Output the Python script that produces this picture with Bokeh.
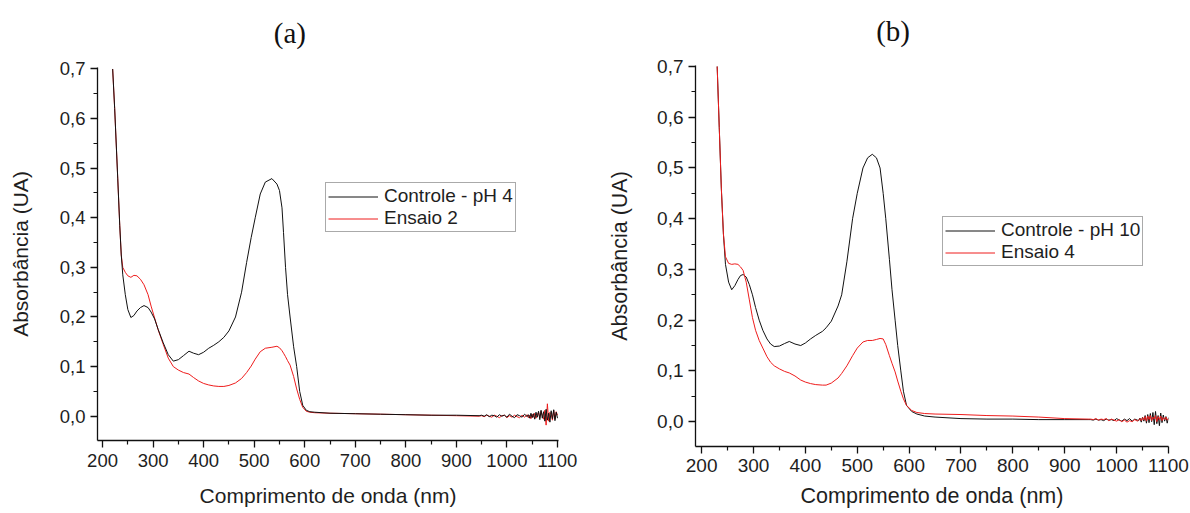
from bokeh.plotting import figure
from bokeh.models import (FixedTicker, CustomJSTickFormatter, Legend, LegendItem,
                          Range1d, LinearAxis)
from bokeh.layouts import row, column
from bokeh.embed import file_html
from bokeh.resources import INLINE

# ---------------- data ----------------
x_ticks = [200, 300, 400, 500, 600, 700, 800, 900, 1000, 1100]
x_minor = [250, 350, 450, 550, 650, 750, 850, 950, 1050]
y_ticks = [0.0, 0.1, 0.2, 0.3, 0.4, 0.5, 0.6, 0.7]
y_minor = [0.05, 0.15, 0.25, 0.35, 0.45, 0.55, 0.65]

# panel (a): Controle - pH 4 / Ensaio 2
wl_a = [220, 224, 230, 234, 237, 240, 245, 250, 256, 262, 268, 275, 282, 290, 296,
        303, 310, 320, 330, 340, 350, 360, 371, 380, 390, 400, 410, 420, 430, 440,
        450, 463, 475, 485, 494, 502, 512, 522, 535, 545, 550, 555, 558, 562, 566,
        571, 578, 584, 590, 596, 603, 610, 620, 650, 700, 750, 800, 850, 900, 945]
ctrl_a = [0.70, 0.62, 0.48, 0.385, 0.325, 0.285, 0.245, 0.215, 0.199, 0.203, 0.212, 0.219, 0.223, 0.219, 0.210,
          0.196, 0.175, 0.148, 0.124, 0.111, 0.114, 0.122, 0.131, 0.127, 0.124, 0.129, 0.137, 0.143, 0.150, 0.159,
          0.172, 0.200, 0.250, 0.310, 0.360, 0.400, 0.448, 0.472, 0.479, 0.468, 0.455, 0.420, 0.370, 0.300, 0.245,
          0.200, 0.140, 0.100, 0.050, 0.022, 0.012, 0.009, 0.008, 0.006, 0.005, 0.004, 0.003, 0.002, 0.002, 0.001]
ens_a = [0.70, 0.62, 0.48, 0.385, 0.325, 0.300, 0.290, 0.283, 0.280, 0.284, 0.283, 0.276, 0.265, 0.245, 0.222,
         0.198, 0.174, 0.145, 0.117, 0.100, 0.093, 0.088, 0.085, 0.078, 0.071, 0.066, 0.063, 0.061, 0.060, 0.060,
         0.062, 0.067, 0.076, 0.088, 0.101, 0.115, 0.130, 0.137, 0.139, 0.141, 0.138, 0.132, 0.127, 0.120, 0.112,
         0.103, 0.080, 0.055, 0.034, 0.018, 0.010, 0.008, 0.007, 0.006, 0.005, 0.004, 0.003, 0.002, 0.001, 0.000]

# panel (b): Controle - pH 10 / Ensaio 4
wl_b = [230, 234, 238, 242, 246, 252, 258, 264, 270, 275, 280, 286, 292, 298, 304,
        311, 318, 326, 333, 340, 350, 360, 369, 380, 391, 400, 410, 420, 433, 440,
        450, 463, 470, 480, 491, 500, 511, 520, 529, 537, 544, 550, 555, 562, 567,
        573, 578, 584, 589, 595, 605, 615, 630, 650, 700, 750, 800, 850, 900, 945]
ctrl_b = [0.70, 0.58, 0.46, 0.37, 0.31, 0.275, 0.260, 0.268, 0.280, 0.288, 0.290, 0.285, 0.270, 0.250, 0.225,
          0.200, 0.180, 0.163, 0.153, 0.148, 0.149, 0.154, 0.158, 0.153, 0.150, 0.155, 0.163, 0.170, 0.178, 0.185,
          0.198, 0.228, 0.250, 0.315, 0.400, 0.450, 0.500, 0.520, 0.527, 0.520, 0.500, 0.450, 0.400, 0.320, 0.260,
          0.200, 0.150, 0.100, 0.060, 0.032, 0.020, 0.015, 0.011, 0.009, 0.006, 0.005, 0.005, 0.004, 0.004, 0.004]
ens_b = [0.70, 0.58, 0.46, 0.37, 0.325, 0.312, 0.310, 0.311, 0.310, 0.305, 0.298, 0.275, 0.240, 0.205, 0.180,
         0.160, 0.145, 0.128, 0.117, 0.110, 0.104, 0.099, 0.096, 0.090, 0.082, 0.078, 0.075, 0.073, 0.072, 0.072,
         0.076, 0.086, 0.095, 0.110, 0.130, 0.145, 0.157, 0.160, 0.160, 0.162, 0.164, 0.163, 0.152, 0.130, 0.115,
         0.098, 0.080, 0.060, 0.045, 0.032, 0.022, 0.018, 0.016, 0.015, 0.014, 0.012, 0.011, 0.009, 0.006, 0.005]

# noisy near-infrared end of the spectra
wl_noise = [950, 955, 960, 965, 970, 975, 980, 985, 990, 995, 1000, 1005, 1010, 1015, 1020,
            1025, 1030, 1035, 1040, 1042.5, 1045, 1047.5, 1050, 1052.5, 1055, 1057.5, 1060,
            1062.5, 1065, 1067.5, 1070, 1072.5, 1075, 1077.5, 1080, 1082.5, 1085, 1087.5,
            1090, 1092.5, 1095, 1097.5, 1100]
ctrl_a_noise = [0.002, 0.000, 0.003, -0.001, 0.002, 0.001, -0.002, 0.003, 0.000, 0.002, -0.002, 0.004,
                0.000, -0.003, 0.003, 0.001, -0.002, 0.004, -0.001,
                0.003, -0.004, 0.006, -0.003, 0.005, -0.006, 0.008, -0.002, 0.010, -0.007, 0.012, -0.004,
                0.009, -0.010, 0.014, -0.008, 0.006, -0.012, 0.011, -0.005, 0.013, -0.009, 0.008, -0.004]
ens_a_noise = [0.001, -0.001, 0.002, 0.000, -0.002, 0.002, 0.000, -0.003, 0.001, 0.002, -0.003, 0.001,
               -0.002, 0.002, -0.001, -0.003, 0.002, -0.002, 0.003,
               -0.003, 0.002, -0.005, 0.004, -0.002, 0.006, -0.004, 0.003, 0.008, -0.003, 0.010, 0.002,
               -0.006, 0.012, -0.018, 0.025, -0.010, 0.008, 0.004, -0.008, 0.012, -0.006, 0.009, 0.002]
ctrl_b_noise = [0.004, 0.003, 0.005, 0.003, 0.004, 0.002, 0.005, 0.003, 0.004, 0.002, 0.006, 0.003,
                0.001, 0.005, 0.002, 0.006, 0.001, 0.005, 0.003,
                0.002, 0.007, -0.001, 0.009, 0.001, 0.012, -0.003, 0.014, -0.002, 0.016, 0.000, 0.018,
                -0.006, 0.020, -0.004, 0.012, -0.008, 0.017, -0.002, 0.013, 0.001, 0.010, -0.003, 0.008]
ens_b_noise = [0.005, 0.004, 0.006, 0.003, 0.005, 0.004, 0.006, 0.002, 0.005, 0.003, 0.001, 0.004,
               0.000, 0.003, -0.001, 0.002, 0.000, 0.004, 0.001,
               0.003, 0.006, 0.002, 0.008, 0.003, 0.010, 0.001, 0.011, 0.004, 0.012, 0.002, 0.009,
               0.005, 0.012, 0.000, 0.010, 0.004, 0.011, 0.002, 0.008, 0.004, 0.009, 0.003, 0.006]

FONT = "Liberation Sans"
TXT = "#1e1e1e"
BLACK = "#111111"
RED = "#ee1c1c"


def make_panel(title, title_x, wl, ctrl, ctrl_noise, ens, ens_noise,
               lab_ctrl, lab_ens, width, height, borders, xr, yr, legend_loc,
               tick_fs, label_fs, x_std, y_std, title_std, black_on_top):
    bl, br, bt, bb = borders
    p = figure(width=width, height=height, output_backend="svg", toolbar_location=None,
               x_range=Range1d(*xr), y_range=Range1d(*yr),
               min_border_left=bl, min_border_right=br, min_border_top=bt, min_border_bottom=bb)
    p.outline_line_color = None
    p.xgrid.visible = False
    p.ygrid.visible = False

    bottom_ax = p.below[0]
    left_ax = p.left[0]

    xs_c = wl + wl_noise
    ys_c = ctrl + ctrl_noise
    ys_e = ens + ens_noise
    if black_on_top:
        r_e = p.line(xs_c, ys_e, line_color=RED, line_width=1)
        r_c = p.line(xs_c, ys_c, line_color=BLACK, line_width=1)
    else:
        r_c = p.line(xs_c, ys_c, line_color=BLACK, line_width=1)
        r_e = p.line(xs_c, ys_e, line_color=RED, line_width=1)

    for ax in (bottom_ax, left_ax):
        ax.axis_line_color = "#111111"
        ax.axis_line_width = 1.3
        ax.major_tick_line_color = "#111111"
        ax.minor_tick_line_color = "#111111"
        ax.major_tick_line_width = 1.3
        ax.minor_tick_line_width = 1.2
        ax.major_tick_in = 0
        ax.major_tick_out = 7
        ax.minor_tick_in = 0
        ax.minor_tick_out = 4
        ax.major_label_text_font = FONT
        ax.major_label_text_font_size = tick_fs
        ax.major_label_text_color = TXT
        ax.axis_label_text_font = FONT
        ax.axis_label_text_font_size = label_fs
        ax.axis_label_text_font_style = "normal"
        ax.axis_label_text_color = TXT

    bottom_ax.ticker = FixedTicker(ticks=x_ticks, minor_ticks=x_minor)
    left_ax.ticker = FixedTicker(ticks=y_ticks, minor_ticks=y_minor)
    left_ax.formatter = CustomJSTickFormatter(code="return tick.toFixed(1).replace('.', ',');")
    bottom_ax.axis_label = "Comprimento de onda (nm)"
    left_ax.axis_label = "Absorbância (UA)"
    bottom_ax.major_label_standoff = x_std[0]
    bottom_ax.axis_label_standoff = x_std[1]
    left_ax.major_label_standoff = y_std[0]
    left_ax.axis_label_standoff = y_std[1]

    # panel letter, drawn as the single label of an invisible top axis
    top = LinearAxis(ticker=FixedTicker(ticks=[title_x], minor_ticks=[]),
                     major_label_overrides={title_x: title})
    top.axis_line_color = None
    top.major_tick_line_color = None
    top.minor_tick_line_color = None
    top.major_tick_out = 0
    top.major_tick_in = 0
    top.minor_tick_out = 0
    top.minor_tick_in = 0
    top.major_label_standoff = title_std
    top.major_label_text_font = "Liberation Serif"
    top.major_label_text_font_size = "29px"
    top.major_label_text_color = "#111111"
    p.add_layout(top, "above")

    legend = Legend(items=[LegendItem(label=lab_ctrl, renderers=[r_c]),
                           LegendItem(label=lab_ens, renderers=[r_e])],
                    location=legend_loc)
    legend.border_line_color = "#555555"
    legend.border_line_width = 1
    legend.background_fill_color = "white"
    legend.background_fill_alpha = 1
    legend.label_text_font = FONT
    legend.label_text_font_size = "19px"
    legend.label_text_color = TXT
    legend.padding = 2
    legend.spacing = 0
    legend.margin = 0
    legend.label_height = 21
    legend.glyph_height = 21
    legend.glyph_width = 50
    legend.label_standoff = 6
    p.add_layout(legend)
    return p


pa = make_panel("(a)", 570.5, wl_a, ctrl_a, ctrl_a_noise, ens_a, ens_a_noise,
                "Controle - pH 4", "Ensaio 2", 600, 513, (97, 42, 67, 73),
                (190, 1102), (-0.049, 0.703), (228, 208), "18.5px", "21px",
                (6, 14), (5, 25), 19, True)
pb = make_panel("(b)", 569, wl_b, ctrl_b, ctrl_b_noise, ens_b, ens_b_noise,
                "Controle - pH 10", "Ensaio 4", 589, 513, (95, 21, 65, 67),
                (188.2, 1100), (-0.049, 0.702), (247, 180), "19px", "21.5px",
                (5, 9), (5, 22), 19, False)

layout = row(column(pa), column(pb))
open("out.html", "w").write(file_html(layout, INLINE))
